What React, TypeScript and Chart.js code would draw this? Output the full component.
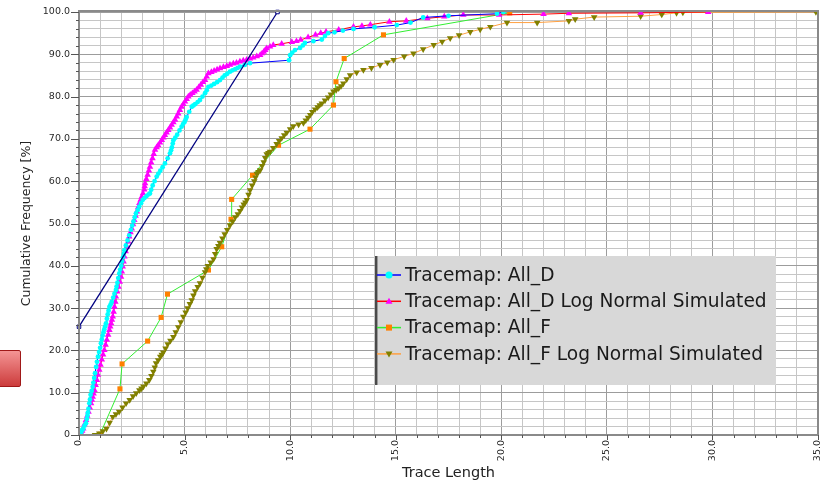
import React, { useEffect, useRef } from 'react';
import { Chart, registerables } from 'chart.js';

Chart.register(...registerables);

// ---------- data ----------
const allDX = [0.05, 0.1, 0.15, 0.2, 0.26, 0.33, 0.37, 0.4, 0.42, 0.45, 0.49, 0.52, 0.55, 0.6, 0.65, 0.68, 0.72, 0.76, 0.81, 0.85, 0.9, 0.95, 1.0, 1.04, 1.08, 1.12, 1.16, 1.2, 1.24, 1.28, 1.32, 1.36, 1.4, 1.44, 1.5, 1.55, 1.62, 1.68, 1.75, 1.78, 1.82, 1.86, 1.91, 1.95, 2.0, 2.04, 2.08, 2.12, 2.15, 2.22, 2.3, 2.38, 2.46, 2.52, 2.58, 2.64, 2.7, 2.78, 2.85, 2.94, 3.02, 3.1, 3.2, 3.3, 3.36, 3.42, 3.49, 3.58, 3.68, 3.76, 3.85, 3.96, 4.07, 4.2, 4.31, 4.36, 4.4, 4.44, 4.47, 4.56, 4.65, 4.76, 4.86, 4.93, 5.0, 5.05, 5.1, 5.22, 5.34, 5.42, 5.5, 5.62, 5.73, 5.85, 5.97, 6.05, 6.13, 6.27, 6.4, 6.54, 6.68, 6.8, 6.9, 7.02, 7.15, 7.27, 7.4, 7.52, 7.63, 7.85, 8.1, 9.95, 10.0, 10.1, 10.23, 10.47, 10.6, 10.7, 11.1, 11.5, 11.65, 11.8, 12.1, 12.5, 13.0, 14.0, 15.05, 15.7, 16.3, 17.5, 19.8, 20.1];
const allDY = [0, 0.6, 1.2, 1.5, 2.2, 2.8, 3.8, 4.6, 5.3, 6.2, 7.5, 8.4, 9.5, 10.4, 11.4, 12.4, 13.5, 14.6, 16.1, 17.3, 18.5, 19.6, 20.6, 21.7, 22.6, 23.5, 24.3, 25, 25.7, 26.4, 27.5, 28.5, 29.4, 30.3, 30.9, 31.5, 32.5, 33.4, 34.3, 35.1, 36, 37.1, 38.2, 39.1, 40, 41, 42, 42.8, 43.7, 44.8, 46, 47.2, 48.5, 49.5, 50.5, 51.5, 52.4, 53.2, 54, 54.8, 55.6, 56, 56.5, 56.9, 57.1, 58, 59, 60, 61.1, 61.8, 62.5, 63.3, 64.2, 65.4, 66.6, 67.3, 68, 68.9, 69.7, 70.3, 71, 72, 72.9, 73.5, 74, 74.6, 75.2, 76.4, 77.6, 77.9, 78.2, 78.7, 79.2, 80, 80.8, 81.5, 82.3, 82.6, 83, 83.4, 83.9, 84.5, 85, 85.4, 85.9, 86.2, 86.5, 86.8, 87.1, 87.5, 87.9, 88.6, 89.8, 90.4, 91.0, 91.5, 92.1, 92.7, 93.1, 93.5, 94.3, 95, 95.2, 95.6, 96.0, 96.4, 96.9, 97.5, 98.7, 99.1, 99.6, 100];

const allDSimX = [0.05, 0.1, 0.15, 0.2, 0.26, 0.33, 0.39, 0.45, 0.51, 0.57, 0.61, 0.65, 0.69, 0.73, 0.79, 0.85, 0.9, 0.96, 1.02, 1.08, 1.14, 1.2, 1.26, 1.32, 1.38, 1.44, 1.48, 1.52, 1.56, 1.6, 1.64, 1.68, 1.72, 1.75, 1.81, 1.87, 1.93, 1.99, 2.03, 2.07, 2.11, 2.15, 2.21, 2.27, 2.33, 2.38, 2.44, 2.5, 2.56, 2.62, 2.68, 2.74, 2.8, 2.86, 2.92, 2.97, 3.03, 3.09, 3.11, 3.13, 3.19, 3.25, 3.31, 3.36, 3.42, 3.48, 3.54, 3.6, 3.68, 3.75, 3.84, 3.92, 4.0, 4.07, 4.15, 4.23, 4.31, 4.39, 4.47, 4.55, 4.63, 4.7, 4.78, 4.86, 4.94, 5.02, 5.1, 5.18, 5.27, 5.37, 5.47, 5.57, 5.67, 5.77, 5.87, 5.97, 6.05, 6.13, 6.27, 6.4, 6.54, 6.68, 6.84, 7.0, 7.15, 7.31, 7.46, 7.62, 7.78, 7.94, 8.1, 8.25, 8.42, 8.58, 8.67, 8.75, 8.82, 8.89, 9.05, 9.2, 9.6, 10.08, 10.3, 10.5, 10.85, 11.2, 11.45, 11.7, 12.3, 13.0, 13.4, 13.8, 14.7, 15.5, 16.5, 17.3, 18.2, 19.9, 22.0, 23.2, 26.6, 29.8];
const allDSimY = [0, 0.5, 1, 1.5, 2.5, 3.5, 4.5, 5.5, 6.5, 7.5, 8.3, 9, 9.8, 10.6, 11.8, 13, 14.2, 15.4, 16.6, 17.8, 19, 20.1, 21.3, 22.5, 23.7, 24.8, 25.6, 26.4, 27.2, 28, 29.1, 30.3, 31.5, 32.7, 33.9, 35, 36.2, 37.4, 38.6, 39.8, 41, 42.2, 43.4, 44.5, 45.7, 46.9, 47.9, 48.8, 49.8, 50.8, 51.8, 52.8, 53.8, 54.8, 55.6, 56.3, 57.1, 58, 58.8, 59.5, 60.5, 61.5, 62.5, 63.4, 64.4, 65.4, 66.4, 67.4, 68, 68.5, 69.1, 69.7, 70.3, 70.9, 71.5, 72.1, 72.7, 73.3, 73.9, 74.5, 75.3, 76, 76.8, 77.6, 78.2, 78.8, 79.4, 80, 80.4, 80.8, 81.2, 81.6, 82.2, 82.8, 83.4, 83.9, 84.7, 85.5, 85.8, 86.1, 86.4, 86.7, 87, 87.2, 87.5, 87.8, 88, 88.3, 88.5, 88.7, 89, 89.2, 89.5, 89.8, 90.2, 90.6, 91, 91.4, 91.8, 92.2, 92.5, 92.9, 93.1, 93.4, 94, 94.6, 95, 95.3, 95.8, 96.5, 96.7, 97, 97.7, 97.9, 98.5, 98.9, 99.3, 99.3, 99.5, 99.7, 99.8, 100];

const allFX = [1.0, 1.94, 2.04, 3.25, 3.89, 4.19, 6.13, 6.76, 7.2, 7.23, 8.22, 9.45, 10.94, 12.05, 12.17, 12.56, 14.42, 20.4];
const allFY = [0.2, 10.9, 16.8, 22.2, 27.8, 33.3, 39.0, 44.5, 51.0, 55.7, 61.4, 68.5, 72.3, 78.0, 83.5, 89.0, 94.6, 99.8];

const allFSimX = [0.76, 0.96, 1.13, 1.3, 1.45, 1.6, 1.75, 1.9, 2.06, 2.23, 2.4, 2.56, 2.71, 2.86, 2.96, 3.05, 3.19, 3.33, 3.43, 3.52, 3.59, 3.65, 3.75, 3.85, 3.92, 3.99, 4.1, 4.2, 4.33, 4.47, 4.58, 4.7, 4.82, 4.94, 5.05, 5.15, 5.25, 5.34, 5.42, 5.5, 5.62, 5.73, 5.85, 5.97, 6.03, 6.1, 6.24, 6.37, 6.45, 6.52, 6.6, 6.68, 6.79, 6.9, 7.02, 7.15, 7.28, 7.4, 7.52, 7.63, 7.72, 7.8, 7.88, 7.95, 8.03, 8.1, 8.2, 8.3, 8.36, 8.42, 8.5, 8.58, 8.67, 8.75, 8.82, 8.89, 8.97, 9.05, 9.2, 9.36, 9.48, 9.6, 9.72, 9.84, 10.0, 10.15, 10.4, 10.63, 10.74, 10.85, 10.95, 11.05, 11.18, 11.3, 11.4, 11.5, 11.65, 11.8, 11.93, 12.05, 12.18, 12.3, 12.41, 12.52, 12.68, 12.84, 13.15, 13.47, 13.85, 14.26, 14.6, 14.9, 15.4, 15.84, 16.3, 16.8, 17.2, 17.58, 18.0, 18.53, 19.0, 19.48, 20.27, 21.7, 23.2, 23.5, 24.4, 26.6, 27.6, 28.3, 28.6, 34.9];
const allFSimY = [0, 0.4, 0.9, 1.5, 2.9, 4.3, 4.9, 5.5, 6.5, 7.5, 8.3, 9.2, 9.9, 10.6, 11, 11.5, 12.2, 13.0, 14, 15, 16, 17.0, 17.7, 18.5, 19, 19.5, 20.5, 21.5, 22.3, 23.2, 24.3, 25.5, 26.7, 28.0, 29, 30, 31, 31.9, 33, 34, 35, 35.9, 37.2, 38.5, 39.2, 40, 40.8, 41.6, 42.8, 44.0, 44.7, 45.4, 46.5, 47.5, 48.5, 49.6, 50.5, 51.5, 52.2, 53.0, 53.8, 54.5, 55, 55.6, 56.8, 57.9, 59, 60, 60.9, 61.8, 62.2, 62.6, 63.6, 64.5, 65.5, 66.4, 66.7, 67, 67.9, 68.8, 69.5, 70.2, 70.9, 71.5, 72.3, 73, 73.4, 73.8, 74.4, 75, 75.7, 76.4, 77, 77.5, 78, 78.4, 79.1, 79.8, 80.5, 81.2, 81.6, 82, 82.5, 83.1, 84.1, 85.1, 85.7, 86.3, 86.8, 87.5, 88.1, 88.7, 89.5, 90.2, 91.2, 92.2, 93, 93.8, 94.5, 95.3, 95.9, 96.5, 97.5, 97.5, 97.9, 98.3, 98.8, 99.0, 99.4, 99.8, 99.9, 100];

const fitLineX = [0, 9.4];
const fitLineY = [25.6, 100];

const SERIES_NAMES = [
  'Tracemap: All_D',
  'Tracemap: All_D Log Normal Simulated',
  'Tracemap: All_F',
  'Tracemap: All_F Log Normal Simulated',
];
const X_TITLE = 'Trace Length';
const Y_TITLE = 'Cumulative Frequency [%]';

// ---------- styles ----------
const FONT = "'DejaVu Sans', sans-serif";
const STYLES = [
  { line: '#0000ff', marker: '#00ffff', shape: 'circle' },
  { line: '#ff0000', marker: '#ff00ff', shape: 'triangle' },
  { line: '#33ee33', marker: '#ff8000', shape: 'rect' },
  { line: '#ffa040', marker: '#808000', shape: 'invTriangle' },
];

function pts(xs: number[], ys: number[]) {
  return xs.map((x, i) => ({ x, y: ys[i] }));
}

function drawMarker(ctx: CanvasRenderingContext2D, shape: string, x: number, y: number, r: number, color: string) {
  ctx.fillStyle = color;
  ctx.beginPath();
  if (shape === 'circle') {
    ctx.arc(x, y, r, 0, Math.PI * 2);
  } else if (shape === 'triangle') {
    ctx.moveTo(x, y - r);
    ctx.lineTo(x + r, y + r * 0.7);
    ctx.lineTo(x - r, y + r * 0.7);
    ctx.closePath();
  } else if (shape === 'invTriangle') {
    ctx.moveTo(x, y + r);
    ctx.lineTo(x + r, y - r * 0.7);
    ctx.lineTo(x - r, y - r * 0.7);
    ctx.closePath();
  } else {
    ctx.rect(x - r, y - r, 2 * r, 2 * r);
  }
  ctx.fill();
}

// frame round the plot area and axis tick marks (long at labelled ticks)
const framePlugin = {
  id: 'frame',
  afterDatasetsDraw(chart: any) {
    const { ctx, chartArea: a, scales } = chart;
    ctx.save();
    ctx.strokeStyle = '#8a8a8a';
    ctx.lineWidth = 2;
    ctx.strokeRect(a.left, a.top - 1, a.right - a.left, a.bottom - a.top + 1);
    ctx.strokeStyle = '#555555';
    ctx.lineWidth = 1;
    ctx.beginPath();
    scales.y.ticks.forEach((t: any) => {
      const py = Math.round(scales.y.getPixelForValue(t.value)) + 0.5;
      const len = t.value % 10 === 0 ? 8 : 3;
      ctx.moveTo(a.left - len, py);
      ctx.lineTo(a.left, py);
    });
    scales.x.ticks.forEach((t: any) => {
      const px = Math.round(scales.x.getPixelForValue(t.value)) + 0.5;
      const len = t.value % 5 === 0 ? 5 : 3;
      ctx.moveTo(px, a.bottom);
      ctx.lineTo(px, a.bottom + len);
    });
    ctx.stroke();
    ctx.restore();
  },
};

const legendPlugin = {
  id: 'boxLegend',
  afterDraw(chart: any) {
    const ctx: CanvasRenderingContext2D = chart.ctx;
    const bx = 375, by = 256, bw = 401, bh = 129;
    ctx.save();
    ctx.fillStyle = '#d8d8d8';
    ctx.fillRect(bx, by, bw, bh);
    ctx.fillStyle = '#4a4a4a';
    ctx.fillRect(bx, by, 2, bh);
    ctx.fillStyle = '#9a9a9a';
    ctx.fillRect(bx + 2, by, 1, bh);
    SERIES_NAMES.forEach((name, i) => {
      const st = STYLES[i];
      const y = 275 + i * 26.3;
      ctx.strokeStyle = st.line;
      ctx.lineWidth = 1.5;
      ctx.beginPath();
      ctx.moveTo(bx + 2, y);
      ctx.lineTo(bx + 26, y);
      ctx.stroke();
      drawMarker(ctx, st.shape, bx + 14, y, st.shape === 'rect' ? 3 : 3.5, st.marker);
      ctx.fillStyle = '#1a1a1a';
      ctx.font = `18.6px ${FONT}`;
      ctx.textBaseline = 'middle';
      ctx.textAlign = 'left';
      ctx.fillText(name, bx + 30, y + 1);
    });
    ctx.restore();
  },
};

const MINOR = '#c6c6c6';
const MAJOR = '#9c9c9c';

export default function App() {
  const ref = useRef<HTMLCanvasElement>(null);

  useEffect(() => {
    if (!ref.current) return;
    const base = {
      showLine: true,
      borderWidth: 1,
      pointBorderWidth: 0,
      tension: 0,
    };
    const chart = new Chart(ref.current, {
      type: 'scatter',
      data: {
        datasets: [
          {
            ...base,
            label: 'fit',
            data: pts(fitLineX, fitLineY),
            borderColor: '#000080',
            borderWidth: 1.3,
            pointStyle: 'rect',
            pointRadius: 2.5,
            pointBorderWidth: 1,
            pointBorderColor: '#000080',
            pointBackgroundColor: '#ffffff',
            clip: false,
          },
          {
            ...base,
            label: SERIES_NAMES[0],
            data: pts(allDX, allDY),
            borderColor: STYLES[0].line,
            pointStyle: 'circle',
            pointRadius: 2.4,
            pointBackgroundColor: STYLES[0].marker,
            pointBorderColor: STYLES[0].marker,
          },
          {
            ...base,
            label: SERIES_NAMES[1],
            data: pts(allDSimX, allDSimY),
            borderColor: STYLES[1].line,
            pointStyle: 'triangle',
            pointRadius: 3.8,
            pointBackgroundColor: STYLES[1].marker,
            pointBorderColor: STYLES[1].marker,
          },
          {
            ...base,
            label: SERIES_NAMES[3],
            data: pts(allFSimX, allFSimY),
            borderColor: STYLES[3].line,
            pointStyle: 'triangle',
            pointRotation: 180,
            pointRadius: 3.8,
            pointBackgroundColor: STYLES[3].marker,
            pointBorderColor: STYLES[3].marker,
          },
          {
            ...base,
            label: SERIES_NAMES[2],
            data: pts(allFX, allFY),
            borderColor: STYLES[2].line,
            pointStyle: 'rect',
            pointRadius: 3.6,
            pointBackgroundColor: STYLES[2].marker,
            pointBorderColor: STYLES[2].marker,
          },
        ] as any,
      },
      options: {
        animation: false,
        responsive: false,
        maintainAspectRatio: false,
        layout: { padding: { left: 0, right: 8, top: 12, bottom: 0 } },
        plugins: {
          legend: { display: false },
          tooltip: { enabled: false },
        },
        scales: {
          x: {
            type: 'linear',
            min: 0,
            max: 35,
            afterFit: (s: any) => { s.height = 48; s.paddingRight = 0; s.paddingLeft = 0; },
            border: { display: true, color: '#6e6e6e', width: 2 },
            grid: {
              color: (c: any) => (c.tick && c.tick.value % 5 === 0 ? MAJOR : MINOR),
              drawTicks: false,
              lineWidth: 1,
            },
            ticks: {
              stepSize: 1,
              autoSkip: false,
              maxRotation: 90,
              minRotation: 90,
              padding: 5,
              color: '#2a2a2a',
              font: { family: FONT, size: 9.5 },
              callback: (v: any) => (v % 5 === 0 ? (v === 0 ? '0' : Number(v).toFixed(1)) : ''),
            },
            title: {
              display: true,
              text: X_TITLE,
              color: '#222222',
              font: { family: FONT, size: 14.5 },
              padding: { top: 0, bottom: 1 },
            },
          },
          y: {
            type: 'linear',
            min: 0,
            max: 100,
            afterFit: (s: any) => { s.width = 79; s.paddingTop = 0; s.paddingBottom = 0; },
            border: { display: true, color: '#6e6e6e', width: 2 },
            grid: {
              color: (c: any) => (c.tick && c.tick.value % 10 === 0 ? MAJOR : MINOR),
              drawTicks: false,
              lineWidth: 1,
            },
            ticks: {
              stepSize: 2,
              autoSkip: false,
              padding: 9,
              color: '#2a2a2a',
              font: { family: FONT, size: 9.5 },
              callback: (v: any) => (v % 10 === 0 ? (v === 0 ? '0' : Number(v).toFixed(1)) : ''),
            },
            title: {
              display: true,
              text: Y_TITLE,
              color: '#222222',
              font: { family: FONT, size: 12.5 },
              padding: { top: 19, bottom: 0 },
            },
          },
        },
      } as any,
      plugins: [framePlugin, legendPlugin],
    });
    return () => chart.destroy();
  }, []);

  return (
    <div style={{ position: 'absolute', left: 0, top: 0, width: 826, height: 483, background: '#ffffff', overflow: 'hidden' }}>
      <canvas ref={ref} width={826} height={483} style={{ display: 'block' }} />
      <div
        style={{
          position: 'absolute',
          left: -4,
          top: 350,
          width: 23,
          height: 35,
          border: '1px solid #a01818',
          borderRadius: 2,
          background: 'linear-gradient(#f49494, #cc3c3c)',
        }}
      />
    </div>
  );
}
